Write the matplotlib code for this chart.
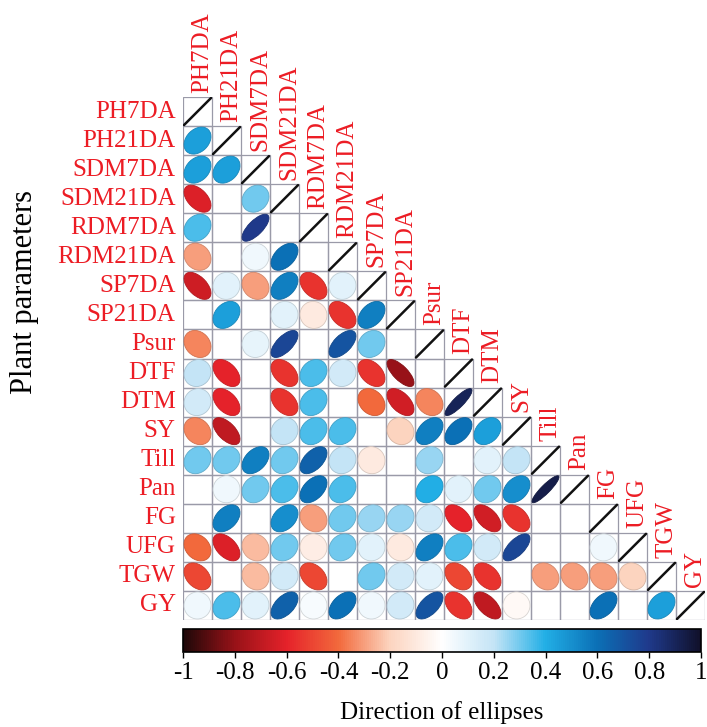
import numpy as np
import matplotlib
matplotlib.use('Agg')
import matplotlib.pyplot as plt
from matplotlib.patches import Ellipse
from matplotlib.colors import LinearSegmentedColormap
import matplotlib.colorbar as mcolorbar

plt.rcParams['font.family'] = ['Liberation Serif', 'DejaVu Serif']

names = ['PH7DA', 'PH21DA', 'SDM7DA', 'SDM21DA', 'RDM7DA', 'RDM21DA', 'SP7DA',
         'SP21DA', 'Psur', 'DTF', 'DTM', 'SY', 'Till', 'Pan', 'FG', 'UFG', 'TGW', 'GY']

nan = np.nan
# lower triangle, row i holds correlations with columns 0..i-1 (blank = nan)
r_PH7DA = []
r_PH21DA = [0.45]
r_SDM7DA = [0.45, 0.45]
r_SDM21DA = [-0.62, nan, 0.3]
r_RDM7DA = [0.35, nan, 0.8, nan]
r_RDM21DA = [-0.3, nan, 0.05, 0.6, nan]
r_SP7DA = [-0.66, 0.1, -0.3, 0.55, -0.55, 0.1]
r_SP21DA = [nan, 0.45, nan, 0.1, -0.1, -0.55, 0.55]
r_Psur = [-0.35, nan, 0.08, 0.75, nan, 0.7, 0.3, nan]
r_DTF = [0.2, -0.6, nan, -0.55, 0.35, 0.15, -0.55, -0.8, nan]
r_DTM = [0.15, -0.6, nan, -0.55, 0.35, nan, -0.4, -0.65, -0.35, 0.9]
r_SY = [-0.35, -0.7, nan, 0.2, 0.35, 0.35, nan, -0.2, 0.55, 0.6, 0.45]
r_Till = [0.3, 0.3, 0.55, 0.3, 0.65, 0.2, -0.1, nan, 0.25, nan, 0.1, 0.2]
r_Pan = [nan, 0.05, 0.3, 0.35, 0.6, 0.35, nan, nan, 0.4, 0.1, 0.3, 0.5, 0.93]
r_FG = [nan, 0.55, nan, 0.5, -0.3, 0.3, 0.25, 0.25, 0.15, -0.6, -0.65, -0.55, nan, nan]
r_UFG = [-0.4, -0.62, -0.25, 0.3, -0.08, 0.3, 0.1, -0.1, 0.55, 0.35, 0.15, 0.75, nan, nan, 0.05]
r_TGW = [-0.5, nan, -0.25, 0.15, -0.5, nan, 0.3, 0.15, 0.1, -0.5, -0.55, nan, -0.3, -0.3, -0.3, -0.2]
r_GY = [0.05, 0.35, 0.1, 0.65, 0.03, 0.6, 0.05, 0.15, 0.7, -0.55, -0.7, -0.03, nan, nan, 0.6, nan, 0.45]

rows = [r_PH7DA, r_PH21DA, r_SDM7DA, r_SDM21DA, r_RDM7DA, r_RDM21DA, r_SP7DA, r_SP21DA,
        r_Psur, r_DTF, r_DTM, r_SY, r_Till, r_Pan, r_FG, r_UFG, r_TGW, r_GY]

cb_ticks = [-1, -0.8, -0.6, -0.4, -0.2, 0, 0.2, 0.4, 0.6, 0.8, 1]

cmap = LinearSegmentedColormap.from_list('corr', [
    '#1e0808', '#9a1218', '#e5222a', '#f26a3c', '#fcd4bf', '#ffffff',
    '#c4e4f6', '#22afe6', '#0b70b6', '#1f3a8c', '#10102a'])

n = len(names)
red = '#ec1c24'
k = 0.93  # ellipse bounding size in cells

fig = plt.figure(figsize=(7.07, 7.27), dpi=100)
ax = fig.add_axes([183/707, 1-620/727, 522/707, 523/727])
ax.set_xlim(0, n)
ax.set_ylim(n, 0)
ax.axis('off')

# grid for lower triangle
for i in range(n):
    for j in range(i+1):
        ax.add_patch(plt.Rectangle((j, i), 1, 1, fill=False, ec='#9a9aa8', lw=0.9))

for i, row in enumerate(rows):
    for j, r in enumerate(row):
        if np.isnan(r):
            continue
        c = cmap((r + 1) / 2)
        a = abs(r) ** 1.5
        major = k*np.sqrt(1 + a)
        minor = k*np.sqrt(1 - a)
        ang = -45 if r > 0 else 45
        ax.add_patch(Ellipse((j+0.5, i+0.5), major, minor, angle=ang, fc=c,
                             ec=tuple(np.array(c[:3])*0.85), lw=0.6))
    # diagonal
    ax.plot([i+0.5-k/2, i+0.5+k/2], [i+0.5+k/2, i+0.5-k/2], color='#111111', lw=1.8,
            solid_capstyle='round')

for i, nm in enumerate(names):
    ax.text(-0.25, i+0.5, nm, ha='right', va='center', fontsize=18, color=red)
    ax.text(i+0.66, i-0.15, nm, ha='center', va='bottom', rotation=90,
            fontsize=18, color=red)

fig.text(25/707, 1-292/727, 'Plant parameters', rotation=90, ha='center',
         va='center', fontsize=22)

cax = fig.add_axes([183/707, 1-652/727, 518/707, 23/727])
norm = matplotlib.colors.Normalize(-1, 1)
cb = mcolorbar.ColorbarBase(cax, cmap=cmap, norm=norm, orientation='horizontal',
                            ticks=cb_ticks)
cb.ax.set_xticklabels(['-1', '-0.8', '-0.6', '-0.4', '-0.2', '0', '0.2', '0.4',
                       '0.6', '0.8', '1'])
cb.ax.tick_params(labelsize=18, length=4, width=1)
cb.outline.set_linewidth(1.2)
cb.set_label('Direction of ellipses', fontsize=18, labelpad=12)

fig.savefig('out.png', dpi=100)
